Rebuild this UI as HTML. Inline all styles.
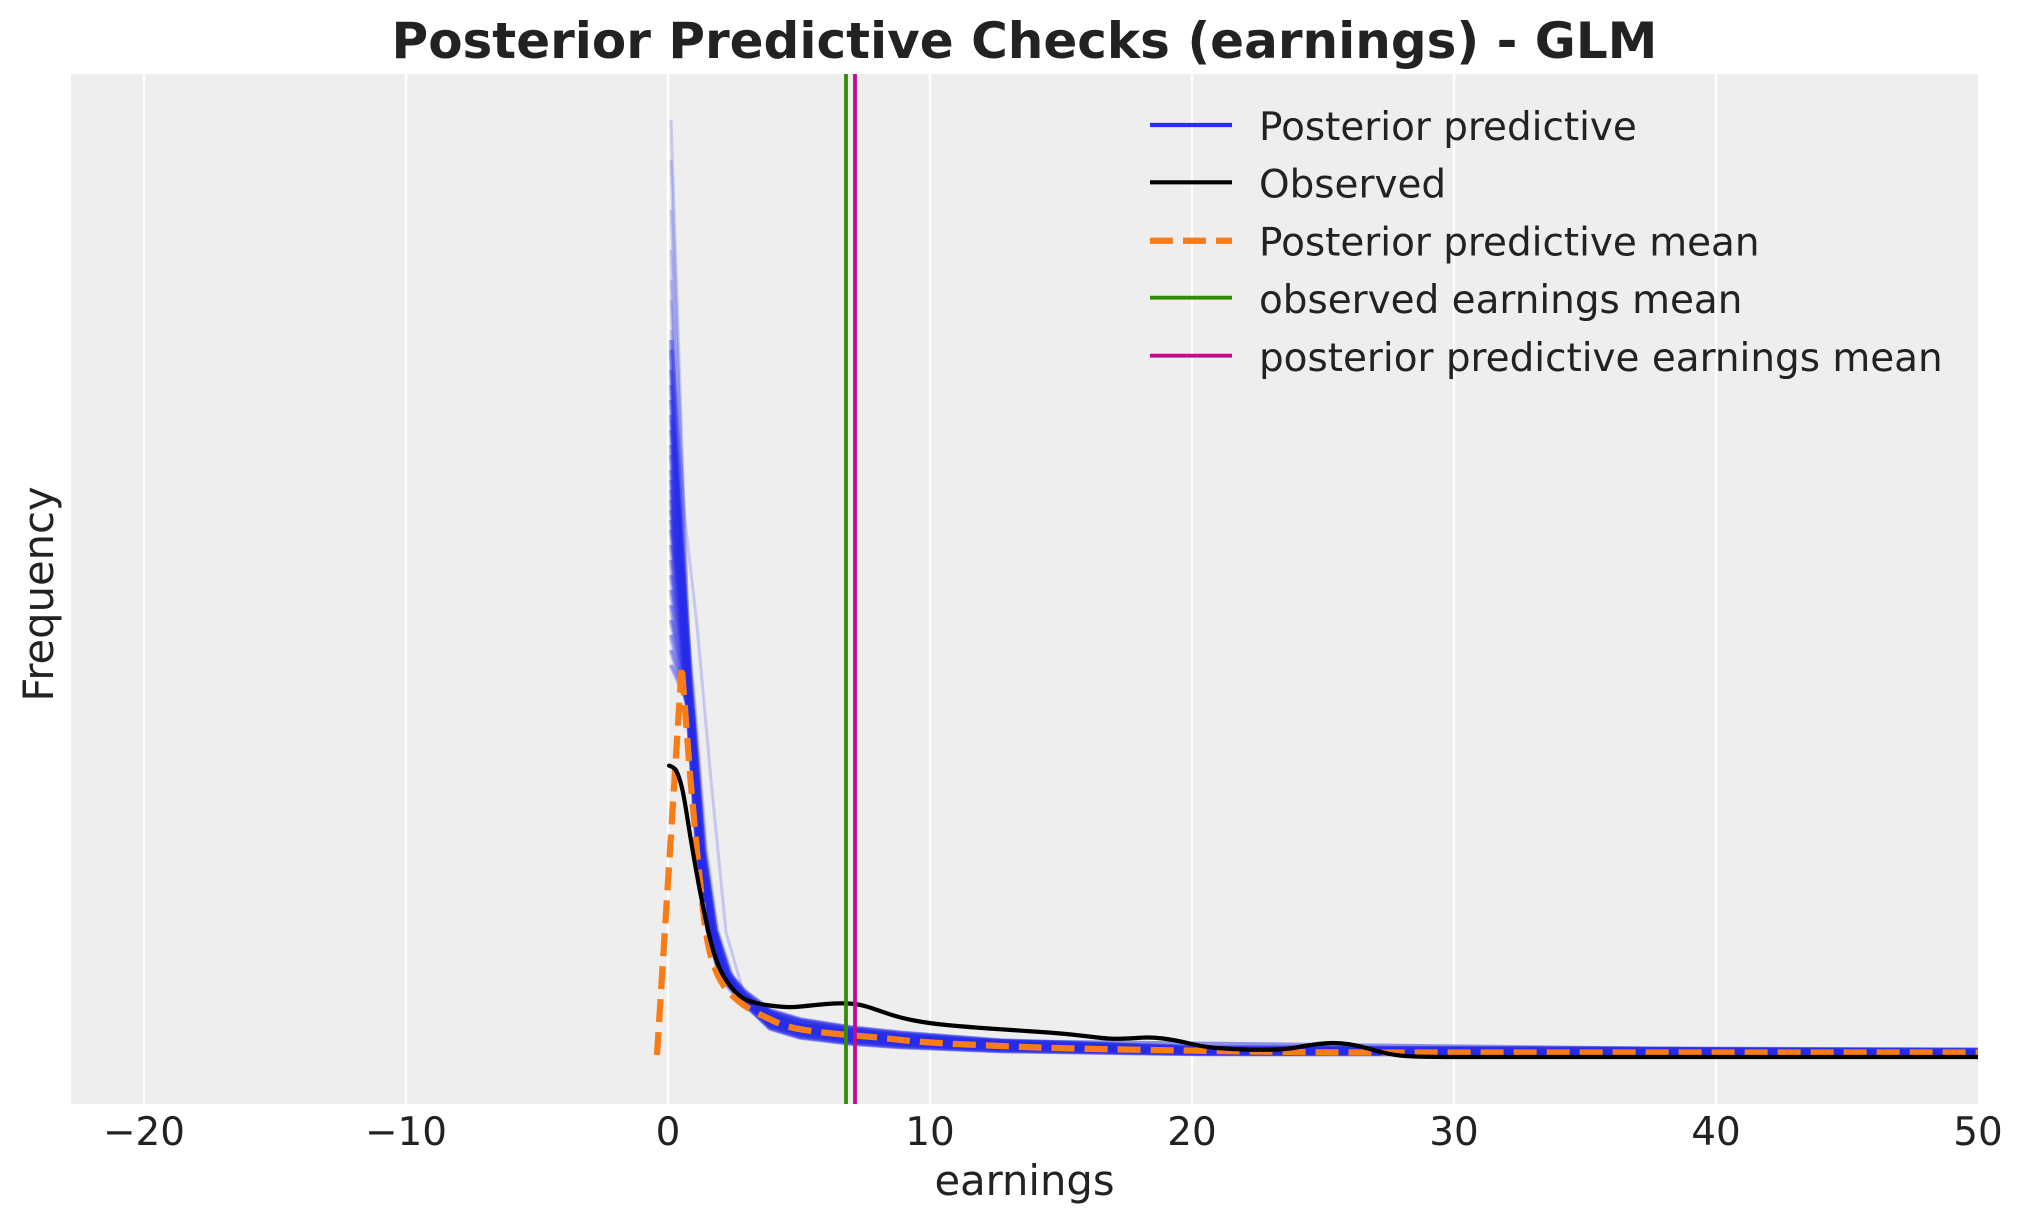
<!DOCTYPE html>
<html>
<head>
<meta charset="utf-8">
<style>
  html, body { margin: 0; padding: 0; background: #ffffff; }
  svg { display: block; }
  text { font-family: "DejaVu Sans", "Liberation Sans", sans-serif; fill: #222222; }
</style>
</head>
<body>
<svg width="2023" height="1223" viewBox="0 0 2023 1223" xmlns="http://www.w3.org/2000/svg">
  <defs>
    <clipPath id="ax">
      <rect x="71" y="74" width="1907" height="1030"/>
    </clipPath>
  </defs>
  <rect x="0" y="0" width="2023" height="1223" fill="#ffffff"/>
  <rect x="71" y="74" width="1907" height="1030" fill="#eeeeee"/>

  <!-- vertical gridlines -->
  <g stroke="#ffffff" stroke-width="2.2">
    <line x1="144" y1="74" x2="144" y2="1104"/>
    <line x1="406" y1="74" x2="406" y2="1104"/>
    <line x1="668" y1="74" x2="668" y2="1104"/>
    <line x1="930" y1="74" x2="930" y2="1104"/>
    <line x1="1192" y1="74" x2="1192" y2="1104"/>
    <line x1="1454" y1="74" x2="1454" y2="1104"/>
    <line x1="1716" y1="74" x2="1716" y2="1104"/>
  </g>

  <g clip-path="url(#ax)">
    <!-- posterior predictive samples: faint tall ones -->
    <g fill="none" stroke="#2a2eec" stroke-opacity="0.2" stroke-width="3" stroke-linejoin="round">
      <path d="M671,120 L691,712 L701.3,850 L712.6,930 L726,973.8 L743,993.6 L770,1015 L800,1024 L850,1031.4 L900,1036.3 L1000,1043.1 L1200,1048.9 L1978,1050.8"/>
      <path d="M671,160 L690,712 L700,850 L711,930 L724,975.9 L742,997.8 L770,1022 L800,1031 L850,1037.7 L900,1041.9 L1000,1047.3 L1200,1051.7 L1978,1052.9"/>
      <path d="M671,210 L692,712 L702.6,850 L714.2,930 L728,974.4 L744,994.8 L770,1017 L800,1026 L850,1033.2 L900,1037.9 L1000,1044.3 L1200,1049.7 L1978,1051.4"/>
      <path d="M671,250 L689,712 L698.7,850 L709.4,930 L722,976.5 L741,999 L770,1024 L800,1033 L850,1039.5 L900,1043.5 L1000,1048.5 L1200,1052.5 L1978,1053.5"/>
      <path d="M671,280 L691,712 L701.3,850 L712.6,930 L726,973.2 L743,992.4 L770,1013 L800,1022 L850,1029.6 L900,1034.7 L1000,1041.9 L1200,1048.1 L1978,1050.2"/>
      <path d="M671,300 L690,712 L700,850 L711,930 L724,975.6 L742,997.2 L770,1021 L800,1030 L850,1036.8 L900,1041.1 L1000,1046.7 L1200,1051.3 L1978,1052.6"/>
      <path d="M671,330 L685,520 L697,625 L711,780 L726,932 L745,998 L790,1022 L900,1036 L1200,1049 L1978,1051"/>
    </g>
    <!-- posterior predictive samples: dense core -->
    <g id="core" fill="none" stroke="#2a2eec" stroke-opacity="0.2" stroke-width="3.6" stroke-linejoin="round">
      <path d="M671,340 L690,712 L700,850 L711,930 L724,975.6 L742,997.2 L770,1021 L800,1030 L850,1036.8 L900,1041.1 L1000,1046.7 L1200,1051.3 L1978,1052.6"/>
      <path d="M671,350 L688,712 L697.4,850 L707.8,930 L720,977.4 L740,1000.8 L770,1027 L800,1036 L850,1042.2 L900,1045.9 L1000,1050.3 L1200,1053.7 L1978,1054.4"/>
      <path d="M671,370 L692,712 L702.6,850 L714.2,930 L728,972.6 L744,991.2 L770,1011 L800,1020 L850,1027.8 L900,1033.1 L1000,1040.7 L1200,1047.3 L1978,1049.6"/>
      <path d="M671,385 L690,712 L700,850 L711,930 L724,975 L742,996 L770,1019 L800,1028 L850,1035 L900,1039.5 L1000,1045.5 L1200,1050.5 L1978,1052"/>
      <path d="M671,400 L691,712 L701.3,850 L712.6,930 L726,976.2 L743,998.4 L770,1023 L800,1032 L850,1038.6 L900,1042.7 L1000,1047.9 L1200,1052.1 L1978,1053.2"/>
      <path d="M671,415 L689,712 L698.7,850 L709.4,930 L722,974.1 L741,994.2 L770,1016 L800,1025 L850,1032.3 L900,1037.1 L1000,1043.7 L1200,1049.3 L1978,1051.1"/>
      <path d="M671,430 L693,712 L703.9,850 L715.8,930 L730,976.8 L745,999.6 L770,1025 L800,1034 L850,1040.4 L900,1044.3 L1000,1049.1 L1200,1052.9 L1978,1053.8"/>
      <path d="M671,445 L690,712 L700,850 L711,930 L724,973.5 L742,993 L770,1014 L800,1023 L850,1030.5 L900,1035.5 L1000,1042.5 L1200,1048.5 L1978,1050.5"/>
      <path d="M671,455 L688,712 L697.4,850 L707.8,930 L720,975.3 L740,996.6 L770,1020 L800,1029 L850,1035.9 L900,1040.3 L1000,1046.1 L1200,1050.9 L1978,1052.3"/>
      <path d="M671,470 L691,712 L701.3,850 L712.6,930 L726,977.7 L743,1001.4 L770,1028 L800,1037 L850,1043.1 L900,1046.7 L1000,1050.9 L1200,1054.1 L1978,1054.7"/>
      <path d="M671,480 L692,712 L702.6,850 L714.2,930 L728,972.3 L744,990.6 L770,1010 L800,1019 L850,1026.9 L900,1032.3 L1000,1040.1 L1200,1046.9 L1978,1049.3"/>
      <path d="M671,490 L689,712 L698.7,850 L709.4,930 L722,975.9 L741,997.8 L770,1022 L800,1031 L850,1037.7 L900,1041.9 L1000,1047.3 L1200,1051.7 L1978,1052.9"/>
      <path d="M671,500 L690,712 L700,850 L711,930 L724,974.7 L742,995.4 L770,1018 L800,1027 L850,1034.1 L900,1038.7 L1000,1044.9 L1200,1050.1 L1978,1051.7"/>
      <path d="M671,510 L691,712 L701.3,850 L712.6,930 L726,977.1 L743,1000.2 L770,1026 L800,1035 L850,1041.3 L900,1045.1 L1000,1049.7 L1200,1053.3 L1978,1054.1"/>
      <path d="M671,520 L688,712 L697.4,850 L707.8,930 L720,973.2 L740,992.4 L770,1013 L800,1022 L850,1029.6 L900,1034.7 L1000,1041.9 L1200,1048.1 L1978,1050.2"/>
      <path d="M671,530 L692,712 L702.6,850 L714.2,930 L728,975.6 L744,997.2 L770,1021 L800,1030 L850,1036.8 L900,1041.1 L1000,1046.7 L1200,1051.3 L1978,1052.6"/>
      <path d="M671,545 L690,712 L700,850 L711,930 L724,974.4 L742,994.8 L770,1017 L800,1026 L850,1033.2 L900,1037.9 L1000,1044.3 L1200,1049.7 L1978,1051.4"/>
      <path d="M671,560 L689,712 L698.7,850 L709.4,930 L722,976.5 L741,999 L770,1024 L800,1033 L850,1039.5 L900,1043.5 L1000,1048.5 L1200,1052.5 L1978,1053.5"/>
      <path d="M671,575 L691,712 L701.3,850 L712.6,930 L726,973.8 L743,993.6 L770,1015 L800,1024 L850,1031.4 L900,1036.3 L1000,1043.1 L1200,1048.9 L1978,1050.8"/>
      <path d="M671,590 L690,712 L700,850 L711,930 L724,978 L742,1002 L770,1029 L800,1038 L850,1044 L900,1047.5 L1000,1051.5 L1200,1054.5 L1978,1055"/>
      <path d="M671,605 L688,712 L697.4,850 L707.8,930 L720,972.9 L740,991.8 L770,1012 L800,1021 L850,1028.7 L900,1033.9 L1000,1041.3 L1200,1047.7 L1978,1049.9"/>
      <path d="M671,620 L691,712 L701.3,850 L712.6,930 L726,975.3 L743,996.6 L770,1020 L800,1029 L850,1035.9 L900,1040.3 L1000,1046.1 L1200,1050.9 L1978,1052.3"/>
      <path d="M671,635 L689,712 L698.7,850 L709.4,930 L722,976.2 L741,998.4 L770,1023 L800,1032 L850,1038.6 L900,1042.7 L1000,1047.9 L1200,1052.1 L1978,1053.2"/>
      <path d="M671,650 L690,712 L700,850 L711,930 L724,974.1 L742,994.2 L770,1016 L800,1025 L850,1032.3 L900,1037.1 L1000,1043.7 L1200,1049.3 L1978,1051.1"/>
      <path d="M671,665 L692,712 L702.6,850 L714.2,930 L728,976.8 L744,999.6 L770,1025 L800,1034 L850,1040.4 L900,1044.3 L1000,1049.1 L1200,1052.9 L1978,1053.8"/>
      <path d="M672,420 L684,600 L694,712 L705,850 L716,930 L732,978 L750,1000 L790,1024 L900,1040 L1978,1052"/>
    </g>
    <use href="#core" x="1.3"/>
    <use href="#core" x="-0.7"/>

    <!-- posterior predictive mean -->
    <path d="M657,1055 L681.7,666 L690,774 Q698,865 702.5,905 Q707,945 712,960 Q717,975 722,983 Q727,991 736,999 Q745,1007 756,1012.5 Q767,1018 778,1023 Q789,1028 811.5,1031 Q834,1034 857,1035.75 Q880,1037.5 901.5,1040 Q923,1042.5 961.5,1044.25 Q1000,1046 1028.5,1047.15 Q1057,1048.3 1124,1049.5 Q1191,1050.7 1258,1051.6 Q1325,1052.5 1400,1052.5 L1978,1052.5"
          fill="none" stroke="#fa7c17" stroke-width="6.25" stroke-dasharray="23 10" stroke-linejoin="round"/>

    <!-- observed -->
    <path d="M669,765.6 L671,766.3 Q673,767 675,769 Q677,771 680,780.5 Q683,790 686.5,812.5 Q690,835 693,852.5 Q696,870 699,886 Q702,902 705,916 Q708,930 710.5,940.5 Q713,951 716.5,960.5 Q720,970 723.5,976 Q727,982 731,987 Q735,992 740,996 Q745,1000 752.5,1002 Q760,1004 766.5,1005 Q773,1006 781.5,1006.75 Q790,1007.5 798,1006.75 Q806,1006 815.5,1005 Q825,1004 834,1003.5 Q843,1003 852,1003.75 Q861,1004.5 870.5,1007.75 Q880,1011 890.5,1014.5 Q901,1018 915.5,1020.75 Q930,1023.5 949,1025.25 Q968,1027 989,1028.5 Q1010,1030 1033.5,1031.5 Q1057,1033 1071,1034.5 Q1085,1036 1097.5,1037.5 Q1110,1039 1120,1038.75 Q1130,1038.5 1140.5,1037.75 Q1151,1037 1163,1038.5 Q1175,1040 1189.5,1043.5 Q1204,1047 1217,1048 Q1230,1049 1244,1049.5 Q1258,1050 1269,1049.75 Q1280,1049.5 1287,1048.75 Q1294,1048 1304.5,1046 Q1315,1044 1326.5,1043.25 Q1338,1042.5 1349,1044.25 Q1360,1046 1370,1049 Q1380,1052 1390,1054 Q1400,1056 1415,1056.5 Q1430,1057 1465,1057 L1978,1057"
          fill="none" stroke="#000000" stroke-width="4.2" stroke-linejoin="round" stroke-linecap="round"/>

    <!-- mean lines -->
    <line x1="846" y1="74" x2="846" y2="1104" stroke="#328c06" stroke-width="3.8"/>
    <line x1="855" y1="74" x2="855" y2="1104" stroke="#c10c90" stroke-width="3.8"/>
  </g>

  <!-- title -->
  <text x="1024.5" y="58" font-size="50" font-weight="bold" text-anchor="middle">Posterior Predictive Checks (earnings) - GLM</text>

  <!-- x tick labels -->
  <g font-size="38.9" text-anchor="middle">
    <text x="144" y="1145">−20</text>
    <text x="406" y="1145">−10</text>
    <text x="668" y="1145">0</text>
    <text x="930" y="1145">10</text>
    <text x="1192" y="1145">20</text>
    <text x="1454" y="1145">30</text>
    <text x="1716" y="1145">40</text>
    <text x="1978" y="1145">50</text>
  </g>

  <!-- axis labels -->
  <text x="1024.5" y="1195" font-size="41.67" text-anchor="middle">earnings</text>
  <text transform="translate(53,594) rotate(-90)" font-size="41.67" text-anchor="middle">Frequency</text>

  <!-- legend -->
  <g>
    <line x1="1150" y1="125" x2="1232" y2="125" stroke="#2a2eec" stroke-width="4.17"/>
    <line x1="1150" y1="182.3" x2="1232" y2="182.3" stroke="#000000" stroke-width="4.17"/>
    <line x1="1150" y1="240.7" x2="1232" y2="240.7" stroke="#fa7c17" stroke-width="6.25" stroke-dasharray="23 10"/>
    <line x1="1150" y1="297.7" x2="1232" y2="297.7" stroke="#328c06" stroke-width="3.8"/>
    <line x1="1150" y1="355.7" x2="1232" y2="355.7" stroke="#c10c90" stroke-width="3.8"/>
  </g>
  <g font-size="38.9">
    <text x="1259" y="140">Posterior predictive</text>
    <text x="1259" y="197.7">Observed</text>
    <text x="1259" y="255.4">Posterior predictive mean</text>
    <text x="1259" y="313.1">observed earnings mean</text>
    <text x="1259" y="370.8">posterior predictive earnings mean</text>
  </g>
</svg>
</body>
</html>
